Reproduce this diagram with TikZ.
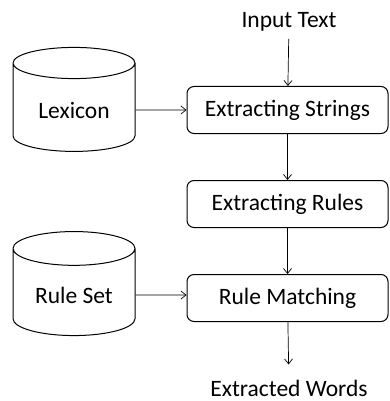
\documentclass[tikz,border=0pt]{standalone}
\usepackage{fontspec}
\setmainfont{Carlito}
\usetikzlibrary{arrows.meta}
\usetikzlibrary{positioning}
\usetikzlibrary{shapes.geometric}

\begin{document}
\begin{tikzpicture}[x=1pt, y=1pt,
                    font=\fontsize{23.5}{28}\selectfont,
                    node distance=46pt,
                    process/.style={
                        draw, line width=1pt, rounded corners=7pt,
                        minimum width=201pt, minimum height=47pt
                    },
                    store/.style={
                        draw, line width=1pt, cylinder, shape border rotate=90,
                        aspect=0.4, minimum width=122pt, minimum height=104pt
                    },
                    label/.style={inner sep=1pt, anchor=base},
                    flow/.style={
                        line width=0.7pt, -{Straight Barb[length=5pt, width=8pt]}
                    }]

    \useasboundingbox (0,0) rectangle (389,-401);

    % main chain
    \node[process] (strings) at (287.5,-110) {Extracting Strings};
    \node[process, below=of strings] (rules) {Extracting Rules};
    \node[process, below=of rules] (matching) {Rule Matching};

    % input and output text
    \node[label] (input) at (289,-28) {Input Text};
    \node[label] (output) at (289,-396) {Extracted Words};

    % data stores
    \node[store] (lexicon) at (74,-110) {Lexicon};
    \node[store] (ruleset) at (74,-295) {Rule Set};

    \draw[flow, shorten <=6pt] (input) -- (strings);
    \draw[flow] (strings) -- (rules);
    \draw[flow] (rules) -- (matching);
    \draw[flow, shorten >=14pt] (matching) -- (output);
    \draw[flow] (lexicon) -- (lexicon -| strings.west);
    \draw[flow] (ruleset) -- (ruleset -| matching.west);

\end{tikzpicture}
\end{document}
